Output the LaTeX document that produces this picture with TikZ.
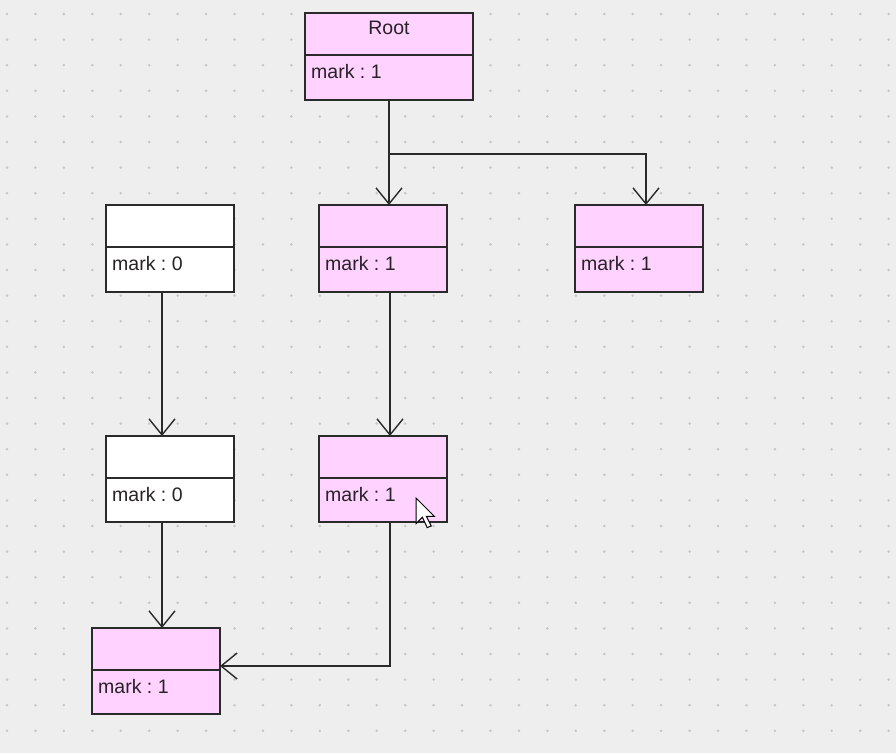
\documentclass[tikz,border=0pt]{standalone}
\usepackage{fontspec}
\setmainfont{Liberation Sans}
\usetikzlibrary{arrows.meta}
\definecolor{canvas}{HTML}{EEEEEE}
\definecolor{gridmark}{HTML}{C6C6C6}
\definecolor{marked}{HTML}{FFD2FF}
\definecolor{unmarked}{HTML}{FFFFFF}
\definecolor{edge}{HTML}{2A2A2A}
\definecolor{label}{HTML}{262226}
\frenchspacing

% \umlobj{name}{left}{top}{width}{height}{fill}{title}{attribute}
\newcommand\umlobj[8]{%
  \node[objbox, fill=#6, minimum width=#4pt, minimum height=#5pt] (#1) at (#2,#3) {};
  \draw[divider] (#2,#3+42) -- (#2+#4,#3+42);
  \node[txt, anchor=base] at (#2+#4/2,#3+21) {#7};
  \node[txt, anchor=base west] at (#2+6,#3+65) {#8};
}

\begin{document}
\begin{tikzpicture}[x=1pt,y=-1pt,
  objbox/.style={draw=edge, line width=2pt, rectangle, anchor=north west, inner sep=0pt, outer sep=0pt},
  divider/.style={draw=edge, line width=1.6pt},
  txt/.style={inner sep=0pt, text=label, font=\fontsize{19.5}{23}\selectfont},
  link/.style={draw=edge, line width=1.8pt,
    -{Straight Barb[length=16pt, width=26pt, line width=1.4pt]}},
]
% canvas with dotted grid
\fill[canvas] (0,0) rectangle (896,753);
\useasboundingbox (0,0) rectangle (896,753);
\foreach \i in {0,...,31}
  \foreach \j in {0,...,28}
    \fill[gridmark] (7+28.44*\i,14+25.6*\j) circle (1.4pt);

% objects
\umlobj{root}{305}{13}{168}{87}{marked}{Root}{mark : 1}
\umlobj{b}{319}{205}{128}{87}{marked}{}{mark : 1}
\umlobj{c}{575}{205}{128}{87}{marked}{}{mark : 1}
\umlobj{a}{106}{205}{128}{87}{unmarked}{}{mark : 0}
\umlobj{d}{106}{436}{128}{86}{unmarked}{}{mark : 0}
\umlobj{e}{319}{436}{128}{86}{marked}{}{mark : 1}
\umlobj{f}{92}{628}{128}{86}{marked}{}{mark : 1}

% references
\path (root.south) ++(0,54) coordinate (split);
\draw[link] (root.south) -- (root.south |- b.north);
\draw[link] (split) -| ([xshift=7pt]c.north);
\draw[link] ([xshift=-8pt]a.south) -- ([xshift=-8pt]d.north);
\draw[link] ([xshift=7pt]b.south) -- ([xshift=7pt]e.north);
\draw[link] ([xshift=-8pt]d.south) -- ([xshift=-8pt]d.south |- f.north);
\draw[link] ([xshift=7pt]e.south) |- ([yshift=5pt]f.east);

% mouse pointer
\draw[fill=white, draw=black, line width=1pt, line join=miter]
  (416,498) -- (416,523.6) -- (422.4,517.2) -- (427.2,527.6)
  -- (431.2,526) -- (426.4,516.4) -- (434.4,516.4) -- cycle;
\end{tikzpicture}
\end{document}
